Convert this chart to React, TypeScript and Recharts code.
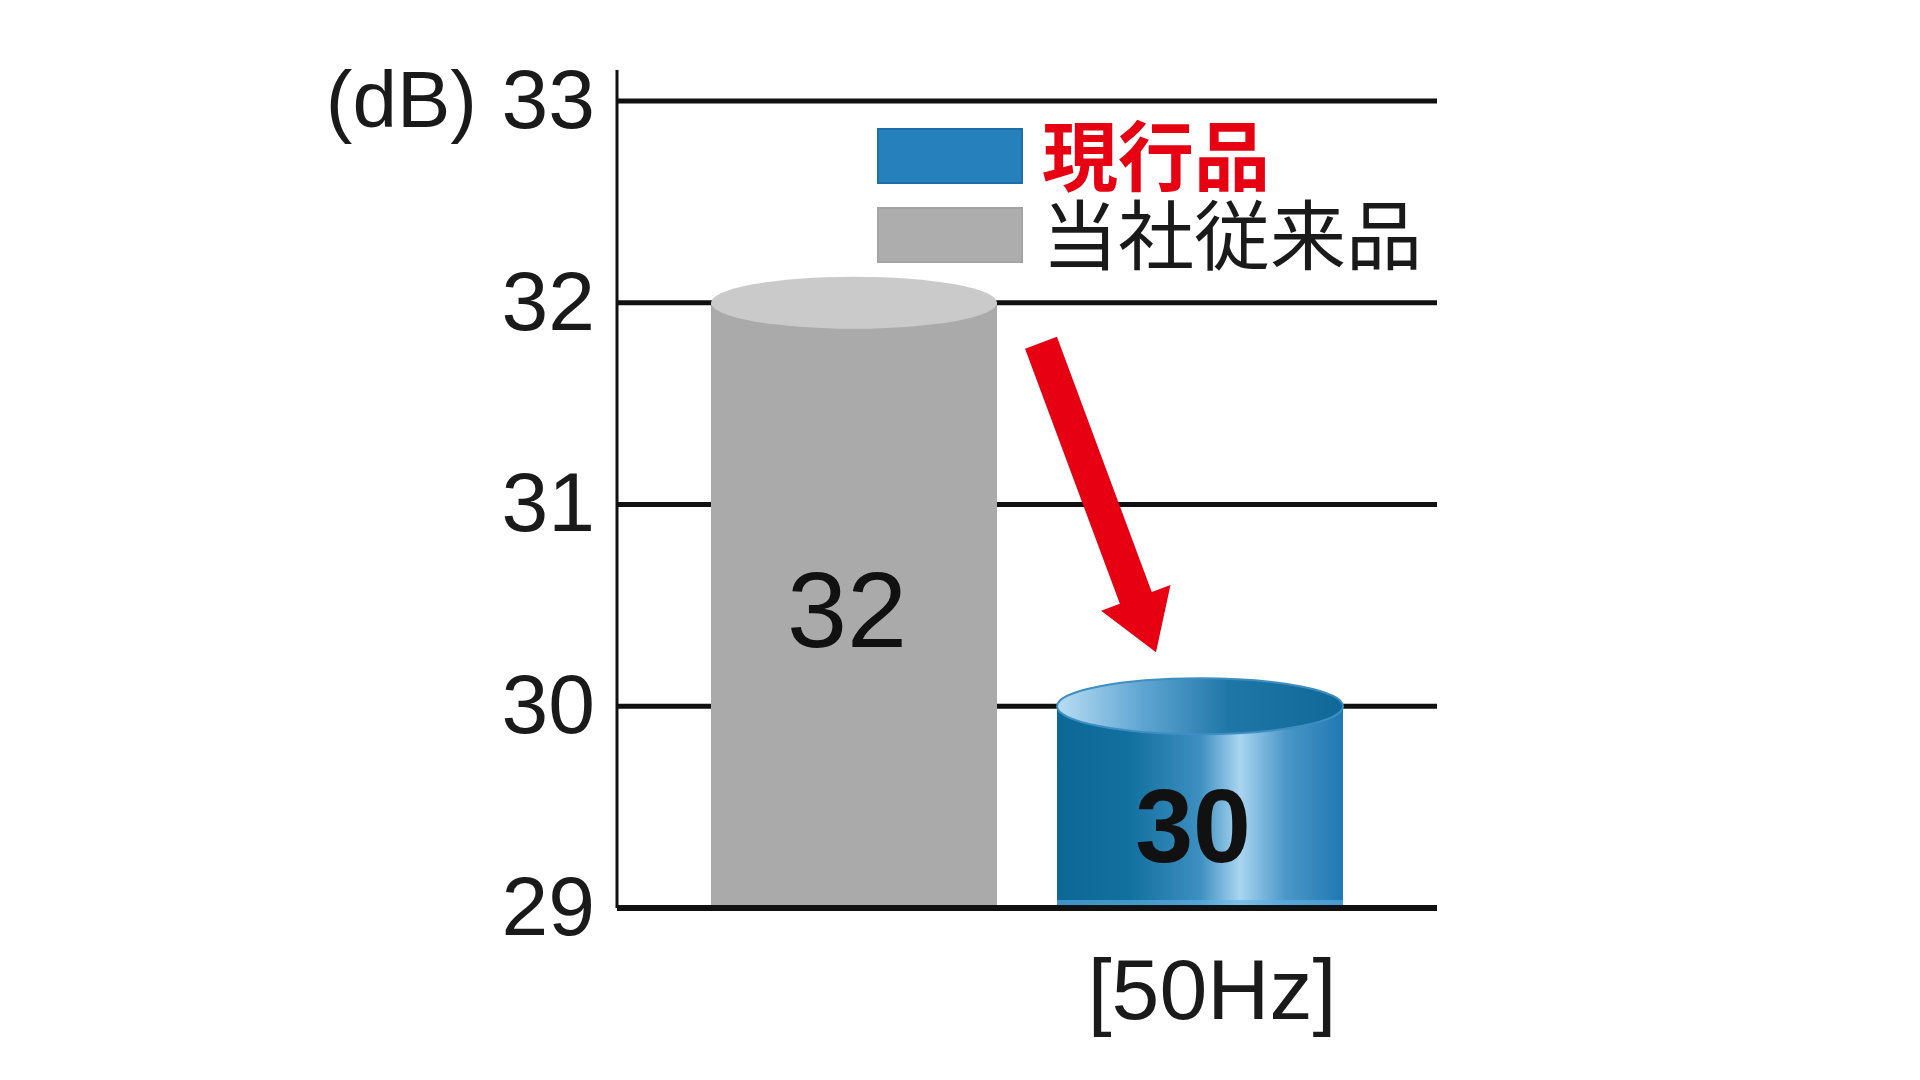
import { BarChart, Bar, XAxis, YAxis, CartesianGrid, Legend, LabelList } from 'recharts'

const categories = ['[50Hz]']
const conventionalValues = [32]
const currentValues = [30]
const yTicks = [29, 30, 31, 32, 33]

const seriesNames = { current: '現行品', conventional: '当社従来品' }

const data = categories.map((freq, i) => ({
  freq,
  conventional: conventionalValues[i],
  current: currentValues[i],
}))

const Y_MIN = yTicks[0]
const Y_MAX = 33.1537
const NUM_FONT = '"Liberation Sans", Arial, sans-serif'
const JP_FONT = '"Noto Sans CJK JP", "Noto Sans", sans-serif'
const BAR_SIZE = 286
const BAR_GAP = 60
const CAP_RY = 26

const YTick = (props: any) => {
  const { x, y, payload } = props
  const isTop = payload.value === yTicks[yTicks.length - 1]
  return (
    <g>
      <text x={x} y={y} dy="0.32em" textAnchor="end" fill="#1a1a1a" fontSize={84} fontFamily={NUM_FONT}>
        {payload.value}
      </text>
      {isTop && (
        <text x={x - 118} y={y} dy="0.32em" textAnchor="end" fill="#1a1a1a" fontSize={80} fontFamily={NUM_FONT}>
          (dB)
        </text>
      )}
    </g>
  )
}

const XTick = (props: any) => {
  const { x, y, payload } = props
  const dx = (BAR_SIZE + BAR_GAP) / 2 + 12
  return (
    <text x={x + dx} y={y} dy="0.71em" textAnchor="middle" fill="#1a1a1a" fontSize={86} fontFamily={NUM_FONT}>
      {payload.value}
    </text>
  )
}

const GrayCylinder = (props: any) => {
  const { x, y, width, height } = props
  const cx = x + width / 2
  return (
    <g>
      <rect x={x} y={y} width={width} height={height} fill="#aaaaaa" />
      <ellipse cx={cx} cy={y} rx={width / 2} ry={CAP_RY} fill="#cacaca" />
    </g>
  )
}

const BlueCylinder = (props: any) => {
  const { x, y, width, height, payload, value } = props
  const cx = x + width / 2
  const v = Array.isArray(value) ? value[1] : value

  // arrow from the gray cap down to this cap
  const pxPerUnit = height / (v - Y_MIN)
  const grayTop = y - (payload.conventional - v) * pxPerUnit
  const tail = { x: x - 16, y: grayTop + 40 }
  const tip = { x: x + 99, y: y - 54 }
  const dx = tip.x - tail.x
  const dy = tip.y - tail.y
  const len = Math.sqrt(dx * dx + dy * dy)
  const ux = dx / len
  const uy = dy / len
  const nx = -uy
  const ny = ux
  const shaftW = 17
  const headW = 37
  const headL = 58
  const bx = tip.x - ux * headL
  const by = tip.y - uy * headL
  const pts = [
    [tail.x + nx * shaftW, tail.y + ny * shaftW],
    [bx + nx * shaftW, by + ny * shaftW],
    [bx + nx * headW, by + ny * headW],
    [tip.x, tip.y],
    [bx - nx * headW, by - ny * headW],
    [bx - nx * shaftW, by - ny * shaftW],
    [tail.x - nx * shaftW, tail.y - ny * shaftW],
  ]
    .map((p) => p.join(','))
    .join(' ')

  return (
    <g>
      <defs>
        <linearGradient id="blueBody" x1="0" y1="0" x2="1" y2="0">
          <stop offset="0%" stopColor="#0d6797" />
          <stop offset="25%" stopColor="#12709f" />
          <stop offset="50%" stopColor="#3d8fc0" />
          <stop offset="64%" stopColor="#a9d5f1" />
          <stop offset="80%" stopColor="#4b97c8" />
          <stop offset="100%" stopColor="#1f79b3" />
        </linearGradient>
        <linearGradient id="blueCap" x1="0" y1="0" x2="1" y2="0">
          <stop offset="0%" stopColor="#b8ddf3" />
          <stop offset="30%" stopColor="#5fa5d2" />
          <stop offset="60%" stopColor="#1f77a8" />
          <stop offset="100%" stopColor="#0f6898" />
        </linearGradient>
      </defs>
      <rect x={x} y={y} width={width} height={height} fill="url(#blueBody)" />
      <rect x={x} y={y + height - 8} width={width} height={8} fill="#5fb2e6" opacity={0.6} />
      <ellipse cx={cx} cy={y} rx={width / 2} ry={CAP_RY + 2} fill="url(#blueCap)" stroke="#3d8fc2" strokeWidth={2} />
      <polygon points={pts} fill="#e60012" />
    </g>
  )
}

const makeLabel = (weight: string, size: number, shift: number) => (props: any) => {
  const { x, y, width, height, value } = props
  const cy = y + (height + CAP_RY) / 2 + shift
  return (
    <text
      x={x + width / 2 - 7}
      y={cy}
      dy="0.36em"
      textAnchor="middle"
      fill="#111"
      fontSize={size}
      fontWeight={weight}
      fontFamily={NUM_FONT}
    >
      {value}
    </text>
  )
}

const LegendBox = () => {
  const rows = [
    { name: seriesNames.current, swatch: '#2580bb', border: '#1b6ea6', color: '#e60012', weight: 700 },
    { name: seriesNames.conventional, swatch: '#adadad', border: '#a4a4a4', color: '#1a1a1a', weight: 400 },
  ]
  return (
    <div style={{ display: 'flex', flexDirection: 'column', gap: 23 }}>
      {rows.map((r) => (
        <div key={r.name} style={{ display: 'flex', alignItems: 'center', height: 56 }}>
          <div
            style={{
              width: 146,
              height: 56,
              background: r.swatch,
              boxShadow: `inset 0 0 0 2px ${r.border}`,
            }}
          />
          <div
            style={{
              marginLeft: 19,
              height: 56,
              fontFamily: JP_FONT,
              fontSize: 76,
              lineHeight: '56px',
              fontWeight: r.weight,
              color: r.color,
              whiteSpace: 'nowrap',
              position: 'relative',
              top: -4,
            }}
          >
            {r.name}
          </div>
        </div>
      ))}
    </div>
  )
}

// grid rows at the y ticks only, placed inside the plot area
const gridRows = ({ offset }: any) =>
  yTicks.map((t) => offset.top + (offset.height * (Y_MAX - t)) / (Y_MAX - Y_MIN))

export default function App() {
  return (
    <div style={{ position: 'absolute', left: 0, top: 0, width: 1920, height: 1080, background: '#fff' }}>
      <BarChart
        width={1920}
        height={1080}
        data={data}
        margin={{ top: 70, right: 483, bottom: 52, left: 0 }}
        barSize={BAR_SIZE}
        barGap={BAR_GAP}
      >
        <CartesianGrid vertical={false} stroke="#111" strokeWidth={5} horizontalCoordinatesGenerator={gridRows} />
        <XAxis
          dataKey="freq"
          height={120}
          axisLine={{ stroke: '#111', strokeWidth: 6 }}
          tickLine={false}
          tickSize={0}
          tickMargin={50}
          tick={<XTick />}
        />
        <YAxis
          width={617}
          type="number"
          domain={[Y_MIN, Y_MAX]}
          ticks={yTicks}
          allowDataOverflow
          axisLine={{ stroke: '#111', strokeWidth: 3 }}
          tickLine={false}
          tickSize={0}
          tickMargin={22}
          tick={<YTick />}
        />
        <Legend
          verticalAlign="middle"
          align="center"
          layout="horizontal"
          content={<LegendBox />}
          wrapperStyle={{ position: 'absolute', left: 877, top: 128, width: 'auto' }}
        />
        <Bar dataKey="conventional" name={seriesNames.conventional} fill="#aaaaaa" shape={<GrayCylinder />} isAnimationActive={false}>
          <LabelList dataKey="conventional" content={makeLabel('400', 108, -10)} />
        </Bar>
        <Bar dataKey="current" name={seriesNames.current} fill="#2580bb" shape={<BlueCylinder />} isAnimationActive={false}>
          <LabelList dataKey="current" content={makeLabel('700', 104, 4)} />
        </Bar>
      </BarChart>
    </div>
  )
}
